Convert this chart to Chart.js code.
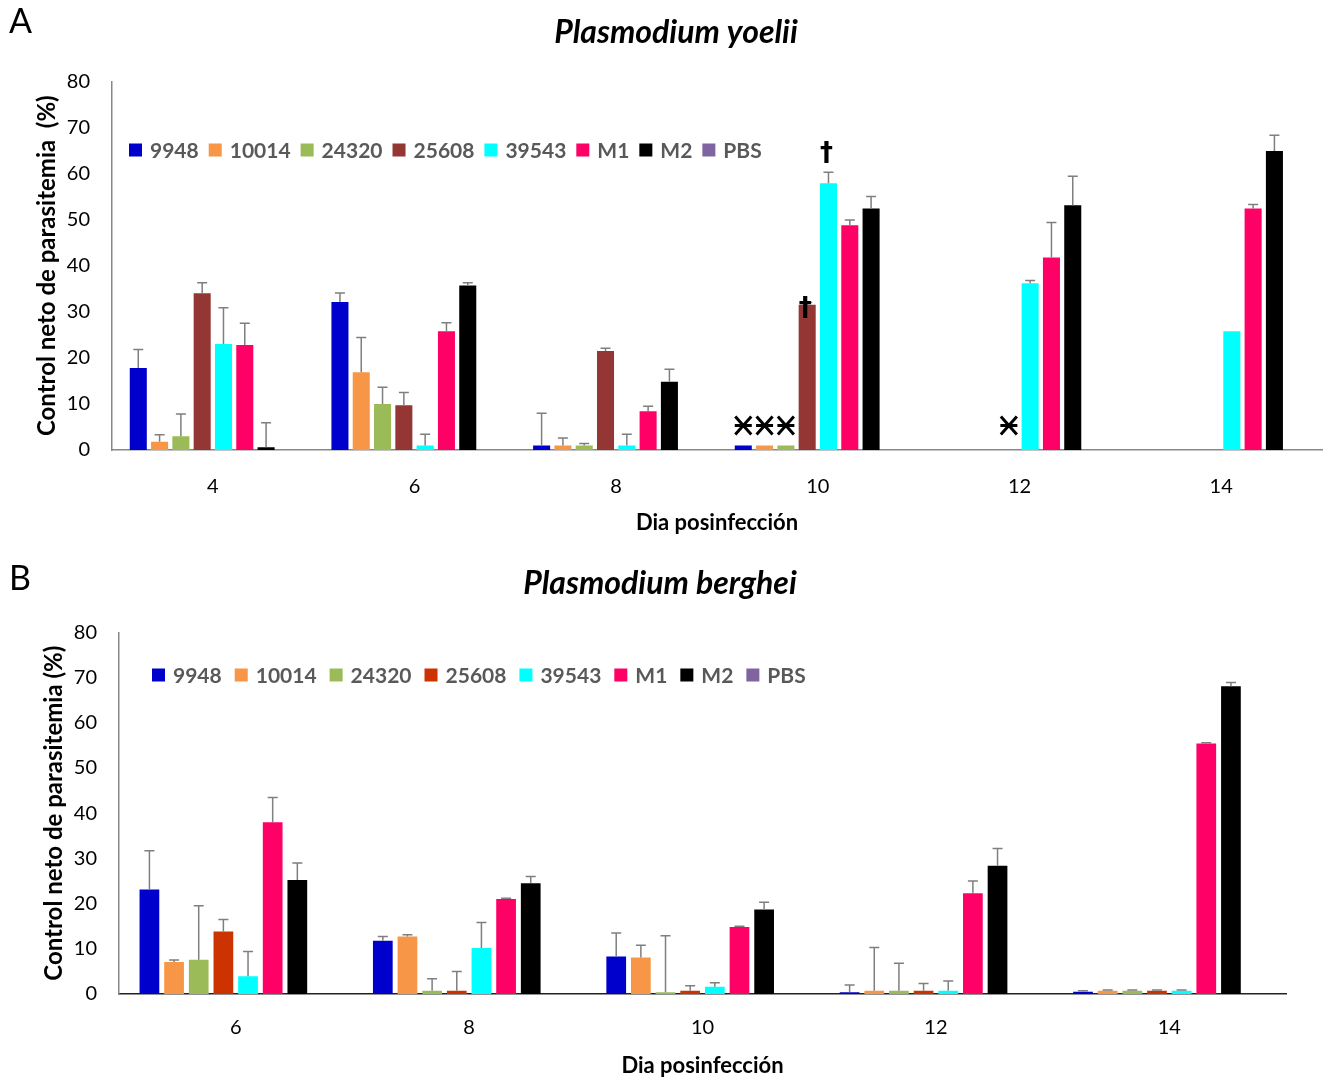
<!DOCTYPE html>
<html>
<head>
<meta charset="utf-8">
<script src="https://cdn.jsdelivr.net/npm/chart.js@4.4.1/dist/chart.umd.min.js"></script>
<style>
  html, body { margin: 0; padding: 0; background: #fff; }
  body { width: 1330px; height: 1083px; position: relative; overflow: hidden; font-family: Lato, sans-serif; }
  .panel { position: absolute; left: 0; width: 1330px; }
  #panelA { top: 0; height: 545px; }
  #panelB { top: 545px; height: 538px; }
  .tag { position: absolute; left: 9px; font: 34px Lato, sans-serif; color: #000; line-height: 1; }
</style>
</head>
<body>
<div class="panel" id="panelA"><canvas id="chartA"></canvas></div>
<div class="panel" id="panelB"><canvas id="chartB"></canvas></div>
<div class="tag" style="top:3px">A</div>
<div class="tag" style="top:560px">B</div>

<script>
// ---- Strains / groups ----
const strains = ['9948', '10014', '24320', '25608', '39543', 'M1', 'M2', 'PBS'];

// ---- Plasmodium yoelii: net parasitemia control (%) by day post-infection ----
const daysYoelii = ['4', '6', '8', '10', '12', '14'];
const yoelii9948  = [17.8, 32.1, 1.0, 1.0, null, null];
const yoelii10014 = [1.8, 16.9, 1.0, 1.0, null, null];
const yoelii24320 = [3.0, 10.0, 1.0, 1.0, null, null];
const yoelii25608 = [34.0, 9.7, 21.5, 31.5, null, null];
const yoelii39543 = [23.0, 1.0, 1.0, 57.9, 36.2, 25.8];
const yoeliiM1    = [22.8, 25.8, 8.4, 48.8, 41.8, 52.4];
const yoeliiM2    = [0.6, 35.7, 14.8, 52.4, 53.1, 64.9];
const yoeliiPBS   = [0, 0, 0, 0, 0, 0];

// upper error (SD)
const yoeliiErr9948  = [4.0, 2.0, 7.0, null, null, null];
const yoeliiErr10014 = [1.5, 7.5, 1.6, null, null, null];
const yoeliiErr24320 = [4.8, 3.6, 0.4, null, null, null];
const yoeliiErr25608 = [2.3, 2.8, 0.6, 0.5, null, null];
const yoeliiErr39543 = [7.9, 2.4, 2.4, 2.4, 0.6, null];
const yoeliiErrM1    = [4.7, 1.8, 1.1, 1.1, 7.6, 0.9];
const yoeliiErrM2    = [5.3, 0.6, 2.7, 2.6, 6.3, 3.4];
const yoeliiErrPBS   = [null, null, null, null, null, null];

// symbols above groups: [strain, day, level in %]
const yoeliiStars   = [['9948', '10', 5.3], ['10014', '10', 5.3], ['24320', '10', 5.3], ['25608', '12', 5.3]];
const yoeliiDaggers = [['39543', '10', 64.2], ['25608', '10', 30.5]];

// ---- Plasmodium berghei ----
const daysBerghei = ['6', '8', '10', '12', '14'];
const berghei9948  = [23.1, 11.8, 8.3, 0.4, 0.5];
const berghei10014 = [7.1, 12.7, 8.1, 0.7, 0.7];
const berghei24320 = [7.6, 0.7, 0.4, 0.7, 0.7];
const berghei25608 = [13.8, 0.7, 0.7, 0.7, 0.7];
const berghei39543 = [3.9, 10.2, 1.6, 0.7, 0.7];
const bergheiM1    = [38.0, 21.0, 14.8, 22.3, 55.4];
const bergheiM2    = [25.2, 24.5, 18.7, 28.4, 68.1];
const bergheiPBS   = [0, 0, 0, 0, 0];

const bergheiErr9948  = [8.6, 0.9, 5.2, 1.6, 0.2];
const bergheiErr10014 = [0.4, 0.4, 2.7, 9.6, 0.2];
const bergheiErr24320 = [11.9, 2.7, 12.5, 6.1, 0.2];
const bergheiErr25608 = [2.7, 4.3, 1.1, 1.6, 0.2];
const bergheiErr39543 = [5.5, 5.6, 0.9, 2.2, 0.2];
const bergheiErrM1    = [5.5, 0.2, 0.2, 2.7, 0.2];
const bergheiErrM2    = [3.8, 1.5, 1.6, 3.8, 0.8];
const bergheiErrPBS   = [null, null, null, null, null];

const yTicks = [0, 10, 20, 30, 40, 50, 60, 70, 80];

// ---- colours ----
const coloursA = ['#0000CC', '#F79646', '#9BBB59', '#943634', '#00FFFF', '#FF0066', '#000000', '#8064A2'];
const coloursB = ['#0000CC', '#F79646', '#9BBB59', '#CC3300', '#00FFFF', '#FF0066', '#000000', '#8064A2'];

// ---- plugins ----
const errorBarsPlugin = {
  id: 'errorBars',
  afterDatasetsDraw(chart, args, opts) {
    const ctx = chart.ctx;
    const yScale = chart.scales.y;
    ctx.save();
    ctx.strokeStyle = opts.color || '#7F7F7F';
    ctx.lineWidth = opts.lineWidth || 1.5;
    chart.data.datasets.forEach((ds, i) => {
      const meta = chart.getDatasetMeta(i);
      if (!ds.errors) return;
      ds.data.forEach((v, j) => {
        const e = ds.errors[j];
        if (v == null || e == null) return;
        const bar = meta.data[j];
        const x = bar.x;
        const y0 = yScale.getPixelForValue(v);
        const y1 = yScale.getPixelForValue(v + e);
        const cap = opts.cap || 5;
        ctx.beginPath();
        ctx.moveTo(x, y0);
        ctx.lineTo(x, y1);
        ctx.moveTo(x - cap, y1);
        ctx.lineTo(x + cap, y1);
        ctx.stroke();
      });
    });
    ctx.restore();
  }
};

const symbolsPlugin = {
  id: 'symbols',
  afterDatasetsDraw(chart, args, opts) {
    const ctx = chart.ctx;
    const yScale = chart.scales.y;
    const labels = chart.data.labels;
    const barX = (strain, day) => {
      const di = chart.data.datasets.findIndex(d => d.label === strain);
      const ci = labels.indexOf(day);
      return chart.getDatasetMeta(di).data[ci].x;
    };
    ctx.save();
    (opts.stars || []).forEach(([s, d, lvl]) => {
      const x = barX(s, d);
      const y = yScale.getPixelForValue(lvl);
      ctx.strokeStyle = '#000';
      ctx.lineWidth = 3;
      ctx.beginPath();
      ctx.moveTo(x - 8, y - 9); ctx.lineTo(x + 8, y + 9);
      ctx.moveTo(x + 8, y - 9); ctx.lineTo(x - 8, y + 9);
      ctx.moveTo(x - 8.5, y); ctx.lineTo(x + 8.5, y);
      ctx.stroke();
    });
    (opts.daggers || []).forEach(([s, d, lvl]) => {
      const x = barX(s, d);
      const y = yScale.getPixelForValue(lvl);
      ctx.fillStyle = '#000';
      ctx.font = 'bold 26px "DejaVu Sans"';
      ctx.textAlign = 'center';
      ctx.textBaseline = 'middle';
      ctx.fillText('\u2020', x - 2, y);
    });
    ctx.restore();
  }
};

const boxLegendPlugin = {
  id: 'boxLegend',
  afterDraw(chart, args, opts) {
    const ctx = chart.ctx;
    ctx.save();
    ctx.font = opts.font;
    ctx.textBaseline = 'middle';
    ctx.textAlign = 'left';
    let x = opts.x;
    const y = opts.y;
    const box = opts.box;
    chart.data.datasets.forEach(ds => {
      ctx.fillStyle = ds.backgroundColor;
      ctx.fillRect(x, y - box / 2, box, box);
      x += box + opts.textGap;
      ctx.fillStyle = opts.color;
      ctx.fillText(ds.label, x, y + 1);
      x += ctx.measureText(ds.label).width + opts.itemGap;
    });
    ctx.restore();
  }
};

function makeDatasets(series, errors, colours) {
  return strains.map((s, i) => ({
    label: s,
    data: series[i],
    errors: errors[i],
    backgroundColor: colours[i],
    borderWidth: 0,
    categoryPercentage: 0.845,
    barPercentage: 0.8
  }));
}

function makeChart(canvasId, cfg) {
  return new Chart(document.getElementById(canvasId), {
    type: 'bar',
    data: {
      labels: cfg.labels,
      datasets: makeDatasets(cfg.series, cfg.errors, cfg.colours)
    },
    options: {
      responsive: true,
      maintainAspectRatio: false,
      animation: false,
      layout: { padding: { left: cfg.padLeft, right: cfg.padRight, top: 0, bottom: 0 } },
      plugins: {
        legend: { display: false },
        tooltip: { enabled: false },
        title: {
          display: true,
          text: cfg.title,
          color: '#000',
          font: { family: 'Lato', size: 32, weight: 'bold', style: 'italic' },
          padding: cfg.titlePad
        },
        errorBars: { color: '#7F7F7F', lineWidth: 1.5, cap: 5 },
        symbols: { stars: cfg.stars, daggers: cfg.daggers },
        boxLegend: {
          x: cfg.legendX, y: cfg.legendY, box: 13, textGap: 8, itemGap: cfg.legendGap,
          font: 'bold 21px Lato', color: '#595959'
        }
      },
      scales: {
        x: {
          grid: { display: false, drawTicks: false },
          border: { color: cfg.xAxisColour, width: 1.5 },
          ticks: { color: '#000', font: { family: 'Lato', size: 20 }, padding: cfg.xTickPad },
          title: {
            display: true, text: 'Dia posinfección', color: '#000',
            font: { family: 'Lato', size: 22, weight: 'bold' },
            padding: { top: 0, bottom: cfg.xTitlePad }
          },
          afterFit: s => { s.height = cfg.xHeight; }
        },
        y: {
          min: 0, max: 80,
          afterBuildTicks: s => { s.ticks = yTicks.map(v => ({ value: v })); },
          grid: { display: false, drawTicks: false },
          border: { color: '#888888', width: 1.5 },
          ticks: { color: '#000', font: { family: 'Lato', size: 20 }, padding: 22 },
          title: {
            display: true, text: cfg.yTitle, color: '#000',
            font: { family: 'Lato', size: 24, weight: 'bold' },
            padding: { top: cfg.yTitlePad, bottom: 0 }
          },
          afterFit: s => { s.width = cfg.yWidth; }
        }
      }
    },
    plugins: [errorBarsPlugin, symbolsPlugin, boxLegendPlugin]
  });
}

makeChart('chartA', {
  labels: daysYoelii,
  series: [yoelii9948, yoelii10014, yoelii24320, yoelii25608, yoelii39543, yoeliiM1, yoeliiM2, yoeliiPBS],
  errors: [yoeliiErr9948, yoeliiErr10014, yoeliiErr24320, yoeliiErr25608, yoeliiErr39543, yoeliiErrM1, yoeliiErrM2, yoeliiErrPBS],
  colours: coloursA,
  title: 'Plasmodium yoelii',
  titlePad: { top: 13, bottom: 30 },
  padLeft: 30,
  padRight: 8,
  yWidth: 82,
  xHeight: 95,
  xTickPad: 25,
  xTitlePad: 9,
  yTitlePad: 3,
  yTitle: 'Control neto de parasitemia  (%)',
  xAxisColour: '#888888',
  stars: yoeliiStars,
  daggers: yoeliiDaggers,
  legendX: 129, legendY: 150, legendGap: 10
});

makeChart('chartB', {
  labels: daysBerghei,
  series: [berghei9948, berghei10014, berghei24320, berghei25608, berghei39543, bergheiM1, bergheiM2, bergheiPBS],
  errors: [bergheiErr9948, bergheiErr10014, bergheiErr24320, bergheiErr25608, bergheiErr39543, bergheiErrM1, bergheiErrM2, bergheiErrPBS],
  colours: coloursB,
  title: 'Plasmodium berghei',
  titlePad: { top: 19, bottom: 30 },
  padLeft: 34,
  padRight: 44,
  yWidth: 85,
  xHeight: 89,
  xTickPad: 22,
  xTitlePad: 4,
  yTitlePad: 6,
  yTitle: 'Control neto de parasitemia (%)',
  xAxisColour: '#222222',
  stars: [],
  daggers: [],
  legendX: 152, legendY: 130, legendGap: 13
});
</script>
</body>
</html>
